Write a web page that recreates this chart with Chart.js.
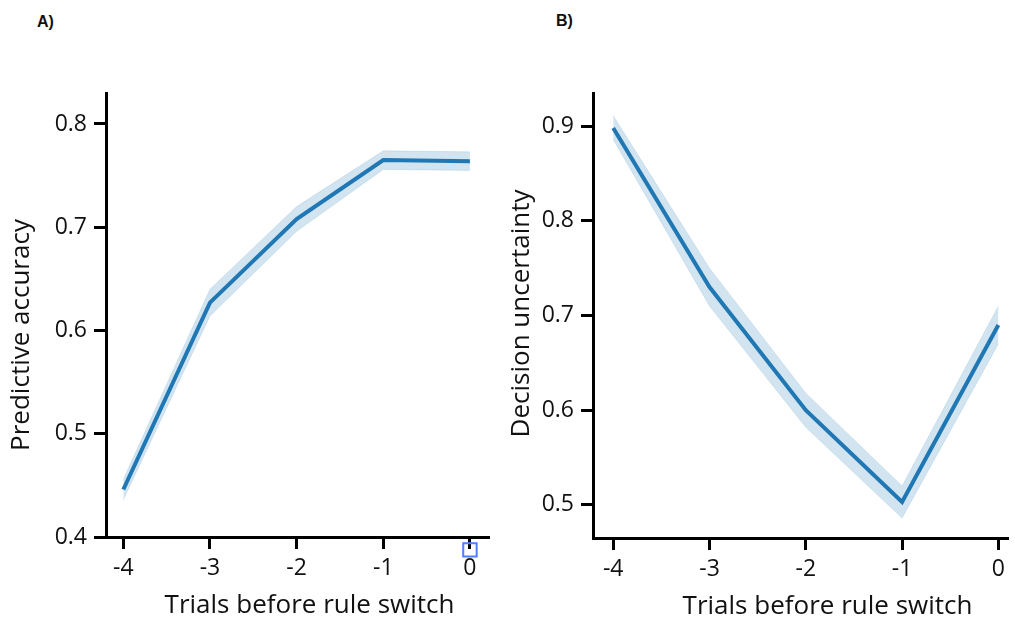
<!DOCTYPE html>
<html>
<head>
<meta charset="utf-8">
<script src="https://cdn.jsdelivr.net/npm/chart.js@4/dist/chart.umd.min.js"></script>
<style>
  body { margin: 0; background: #fff; width: 1015px; height: 624px; position: relative; overflow: hidden; }
  canvas { position: absolute; top: 0; }
  #chartA { left: 0; }
  #chartB { left: 507px; }
  .tag { position: absolute; font: bold 16px "Liberation Sans", Arial, sans-serif; color: #111; }
</style>
</head>
<body>
<div class="tag" style="left:37px; top:13px;">A)</div>
<div class="tag" style="left:556px; top:12px;">B)</div>
<canvas id="chartA" width="507" height="624"></canvas>
<canvas id="chartB" width="508" height="624"></canvas>
<script>
// trials before switch (x axis)
var trials = [-4, -3, -2, -1, 0];

// panel A - predictive accuracy, mean and CI band
var accMean = [0.446, 0.627, 0.708, 0.765, 0.764];
var accLow  = [0.436, 0.614, 0.696, 0.756, 0.755];
var accHigh = [0.456, 0.640, 0.720, 0.774, 0.773];
var accTicks = [0.4, 0.5, 0.6, 0.7, 0.8];

// panel B - decision uncertainty, mean and CI band
var uncMean = [0.898, 0.730, 0.600, 0.503, 0.690];
var uncLow  = [0.886, 0.710, 0.582, 0.486, 0.670];
var uncHigh = [0.911, 0.750, 0.618, 0.520, 0.710];
var uncTicks = [0.5, 0.6, 0.7, 0.8, 0.9];

// little hollow square under the 0 tick of panel A
var markerA = [{x: 0, y: 0.3875}];

var lineBlue = '#1f77b4';
var bandBlue = 'rgba(31, 119, 180, 0.2)';
var font = '"Open Sans", "DejaVu Sans", sans-serif';

function pts(ys) {
    return trials.map(function(t, i) { return {x: t, y: ys[i]}; });
}

// axis labels drawn by hand so they can sit off-centre like the figure
var axisTitles = {
    id: 'axisTitles',
    afterDraw: function(chart, args, opts) {
        var ctx = chart.ctx, a = chart.chartArea;
        ctx.save();
        ctx.font = '26px ' + font;
        ctx.fillStyle = '#111';
        ctx.textAlign = 'center';
        ctx.textBaseline = 'middle';
        ctx.fillText(opts.xText, (a.left + a.right) / 2 + opts.xDx, opts.xY);
        ctx.translate(opts.yX, (a.top + a.bottom) / 2 + opts.yDy);
        ctx.rotate(-Math.PI / 2);
        ctx.fillText(opts.yText, 0, 0);
        ctx.restore();
    }
};

function makeChart(id, o) {
    var datasets = [
        { data: pts(o.mean), borderColor: lineBlue, borderWidth: 4, pointRadius: 0, fill: false, tension: 0 },
        { data: pts(o.high), borderColor: 'rgba(31,119,180,0.12)', borderWidth: 1, pointRadius: 0, backgroundColor: bandBlue, fill: '+1', tension: 0 },
        { data: pts(o.low), borderColor: 'rgba(31,119,180,0.12)', borderWidth: 1, pointRadius: 0, fill: false, tension: 0 }
    ];
    if (o.marker) {
        // hoverRadius only widens the in-area check so the point below the axis still draws
        datasets.push({ type: 'scatter', data: o.marker, pointStyle: 'rect', pointRadius: 9.5, hoverRadius: 16,
            borderColor: '#4f7fff', borderWidth: 2, backgroundColor: 'rgba(0,0,0,0)', clip: false });
    }
    return new Chart(document.getElementById(id), {
        type: 'line',
        data: { datasets: datasets },
        plugins: [axisTitles],
        options: {
            responsive: false,
            animation: false,
            events: [],
            layout: { padding: { top: 93, right: o.padRight, left: 0, bottom: 0 } },
            plugins: {
                legend: { display: false },
                tooltip: { enabled: false },
                axisTitles: { xText: 'Trials before rule switch', xDx: o.xDx, xY: o.xY,
                    yText: o.yLabel, yX: o.yX, yDy: o.yDy }
            },
            scales: {
                x: {
                    type: 'linear',
                    min: o.xMin, max: o.xMax,
                    afterFit: function(s) { s.height = o.xHeight; },
                    border: { color: '#000', width: 3 },
                    grid: { drawOnChartArea: false, drawTicks: true, tickLength: 12, tickWidth: 3, tickColor: '#000' },
                    ticks: { color: '#111', padding: 6, font: { family: font, size: 23 } },
                    afterBuildTicks: function(s) { s.ticks = trials.map(function(v) { return {value: v}; }); }
                },
                y: {
                    min: o.yMin, max: o.yMax,
                    afterFit: function(s) { s.width = o.yWidth; },
                    border: { color: '#000', width: 3 },
                    grid: { drawOnChartArea: false, drawTicks: true, tickLength: 12, tickWidth: 3, tickColor: '#000' },
                    ticks: { color: '#111', padding: 7, font: { family: font, size: 23 },
                        callback: function(v) { return v.toFixed(1); } },
                    afterBuildTicks: function(s) { s.ticks = o.ticks.map(function(v) { return {value: v}; }); }
                }
            }
        }
    });
}

makeChart('chartA', {
    mean: accMean, low: accLow, high: accHigh, ticks: accTicks, marker: markerA,
    yLabel: 'Predictive accuracy',
    xMin: -4.2, xMax: 0.22, yMin: 0.4, yMax: 0.83,
    yWidth: 106, xHeight: 87, padRight: 15,
    xDx: 12, xY: 606, yX: 22, yDy: 20
});

makeChart('chartB', {
    mean: uncMean, low: uncLow, high: uncHigh, ticks: uncTicks,
    yLabel: 'Decision uncertainty',
    xMin: -4.21, xMax: 0.1, yMin: 0.465, yMax: 0.935,
    yWidth: 86, xHeight: 86, padRight: 7,
    xDx: 27, xY: 607, yX: 15, yDy: -2
});
</script>
</body>
</html>
